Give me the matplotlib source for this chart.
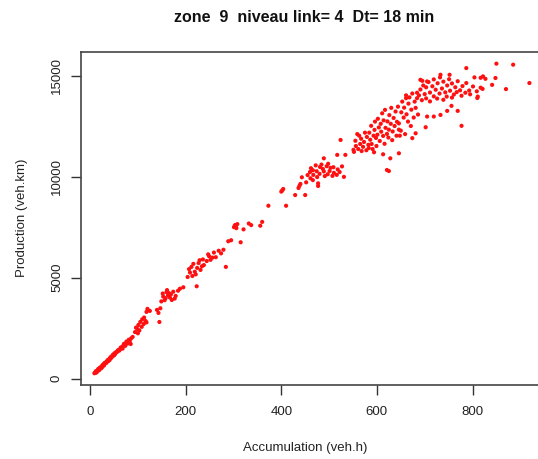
import matplotlib
matplotlib.use("Agg")
from matplotlib import pyplot as plt

plt.rcParams['font.family'] = ['Liberation Sans', 'DejaVu Sans']

# accumulation (veh.h) / production (veh.km)
acc_bas = [9, 13, 11, 16, 12, 18, 14, 20, 15, 17, 22, 19, 13, 24, 21, 18, 26, 23, 28, 20,
           25, 31, 27, 24, 33, 29, 35, 30, 38, 26, 41, 34, 37, 44, 32, 47, 39, 43, 50, 36,
           54, 45, 41, 57, 48, 52, 60, 46, 63, 55, 58, 66, 51, 70, 61, 73, 64, 68]
prod_bas = [260, 340, 300, 400, 360, 450, 330, 520, 390, 470, 510, 430, 290, 600, 540, 400, 640, 510, 690, 460,
            560, 730, 680, 540, 800, 640, 850, 760, 880, 620, 990, 770, 920, 1020, 780, 1130, 880, 1060, 1140, 840,
            1300, 1050, 920, 1330, 1180, 1200, 1420, 1110, 1450, 1290, 1390, 1540, 1250, 1650, 1380, 1620, 1530, 1480]

acc_moy = [68, 71, 74, 76, 79, 81, 83, 86, 89, 85,
           94, 99, 96, 103, 101, 108, 105, 112, 109, 116, 113, 118, 100,
           118, 120, 125, 140, 143, 147, 145,
           149, 153, 156, 152, 160, 158, 163, 161, 167, 165, 171, 169, 174, 177, 179,
           184, 188, 195,
           204, 209, 207, 214, 212, 219, 216, 224, 221, 227, 231, 229, 234, 238, 236, 223,
           244, 249, 252, 247, 256, 259, 263, 269, 274, 279, 284,
           289, 295, 301, 303, 305, 308, 315, 306,
           321, 332, 337, 356, 360,
           373, 410, 400, 402, 404, 429, 450,
           436, 438, 440, 443, 452, 461, 466, 477, 477]
prod_moy = [1580, 1720, 1640, 1830, 1740, 1920, 1860, 1990, 2060, 1710,
            2300, 2450, 2520, 2380, 2650, 2560, 2800, 2700, 2930, 2850, 3020, 2780, 2240,
            3300, 3450, 3350, 3400, 3250, 3480, 2800,
            3820, 4060, 3880, 4210, 4280, 3980, 4120, 4380, 4010, 4230, 3890, 4170, 4300, 3960, 4090,
            4350, 4450, 4520,
            5030, 5250, 5420, 5080, 5530, 5290, 5680, 5480, 5160, 5720, 5380, 5860, 5560, 5620, 5900, 4570,
            5820, 6060, 5880, 6150, 5990, 6240, 6010, 6330, 6200, 6380, 5530,
            6800, 6850, 7500, 7600, 7550, 7650, 6750, 7450,
            7390, 7680, 7600, 7570, 7760,
            8560, 8560, 9260, 9320, 9390, 9090, 9090,
            9440, 9550, 9640, 9970, 9720, 9920, 9830, 9670, 9540]

acc_haut = [455, 460, 462, 467, 466, 472, 475, 474, 481, 480, 487, 491, 489, 495, 497, 503, 501, 507,
            510, 509, 516, 518, 522, 527, 531, 498, 484,
            489, 517, 524, 534, 551,
            552, 556, 555, 561, 563, 565, 568, 567, 571, 575, 573, 578, 579, 582, 559,
            583, 586, 584, 589, 588, 593, 591, 595, 598, 596, 601, 599, 604, 602, 606, 609, 608, 611,
            613, 614, 616, 618, 617, 621, 622, 624, 626, 625, 629, 630, 632, 633, 635, 637, 639, 641,
            642, 644, 646, 594, 621,
            625, 628, 613, 646,
            648, 646, 651, 650, 653, 656, 657, 659, 661, 662, 665, 666, 668, 671, 672, 674, 674, 677,
            679, 681, 681, 684, 686, 661, 684, 691, 695, 705,
            702, 705, 719, 733, 747, 756, 769, 777,
            688, 691, 694, 697, 700, 703, 703, 708, 711, 711, 716, 719, 719, 723, 726, 727, 731, 732,
            736, 739, 739, 743, 746, 747, 751, 753, 757, 757, 761, 764, 767, 769, 774, 777, 779, 785,
            787, 793, 795, 801, 804, 809, 811, 817, 733, 752, 787, 817, 822, 827, 810, 821,
            841, 848, 850, 870, 885, 919]
prod_haut = [10080, 10230, 10420, 10090, 10320, 10560, 9980, 10270, 10480, 10140, 10380, 10030, 10260,
             10520, 10120, 10440, 10280, 10040, 10190, 10470, 10090, 10360, 10230, 10510, 9990, 10640, 10600,
             10910, 11080, 11820, 11080, 11330,
             11230, 11520, 11780, 11370, 12030, 11620, 11270, 11880, 11480, 12180, 11720, 11310, 11970, 11580, 12110,
             11420, 11830, 12180, 11620, 12520, 12030, 11370, 12320, 11920, 12730, 12080, 11520, 12440, 12870,
             11770, 12230, 12620, 13140, 12020, 12790, 11630, 12420, 13310, 12120, 12740, 11940, 13050, 12330,
             12620, 13410, 11810, 12240, 12910, 12510, 13230, 12030, 12720, 13470, 12330, 11210, 10330,
             10280, 10910, 11110, 11160,
             12030, 12640, 13190, 12280, 13720, 12930, 13420, 12110, 14030, 13090, 12730, 13620, 13930, 12510,
             13320, 14120, 11910, 12930, 13720, 13410, 12150, 14160, 13080, 13890, 13890, 14800, 14750, 14720,
             12450, 12980, 12980, 13060, 13260, 13510, 13260, 12520,
             14030, 14320, 13790, 14520, 14090, 13880, 14430, 14690, 14170, 13730, 14480, 13980, 14820, 14310,
             13870, 14630, 14120, 14920, 14370, 13810, 14710, 14180, 13970, 14520, 14830, 14260, 13920, 14620,
             14070, 14430, 14190, 14730, 14280, 14010, 14490, 14160, 14640, 14270, 14080, 14470, 14920, 14230,
             13970, 14410, 15050, 15050, 15380, 14900, 14970, 14850, 13900, 14350,
             14550, 14890, 15600, 14340, 15550, 14640]

x = acc_bas + acc_moy + acc_haut
y = prod_bas + prod_moy + prod_haut

fig = plt.figure(figsize=(5.38, 4.59), dpi=100)
# le cadre depasse a droite comme dans l'image d'origine
ax = fig.add_axes([81/538, 74/459, 468/538, 333/459])
ax.scatter(x, y, s=9, color='#ff1010', edgecolors='none')

ax.set_xlim(-19, 960)
ax.set_ylim(-322, 16178)
ax.set_xticks([0, 200, 400, 600, 800])
ax.set_yticks([0, 5000, 10000, 15000])
ax.tick_params(direction='out', length=7, width=1, color='#333333',
               labelsize=9.5, labelcolor='#222222')
ax.tick_params(axis='x', pad=8)
ax.tick_params(axis='y', pad=6)
for lab in ax.get_yticklabels():
    lab.set_rotation(90)
    lab.set_va('center')
for sp in ax.spines.values():
    sp.set_color('#444444')
    sp.set_linewidth(1.2)

fig.text(305/538, 1 - 448/459, 'Accumulation (veh.h)', ha='center', va='center',
         fontsize=9.5, color='#222222')
fig.text(22/538, 1 - 218/459, 'Production (veh.km)', ha='center', va='center',
         rotation=90, fontsize=9.5, color='#222222')
fig.text(304/538, 1 - 17/459, 'zone  9  niveau link= 4  Dt= 18 min', ha='center', va='center',
         fontsize=11.5, fontweight='bold', color='#111111')

plt.savefig('out.png', dpi=100)
